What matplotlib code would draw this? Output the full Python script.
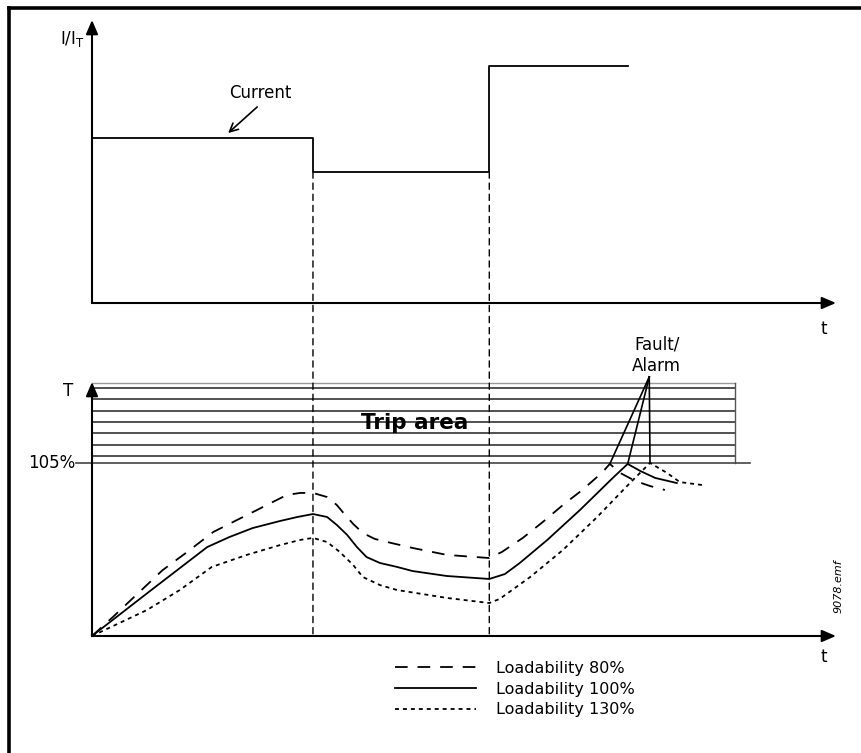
import numpy as np
import matplotlib
matplotlib.use("Agg")
import matplotlib.pyplot as plt
from matplotlib.patches import ConnectionPatch
from matplotlib.lines import Line2D

# time axis in arbitrary units (0..100), events where the load current changes
step_t = [0.1, 29.7, 53.4, 72.0]
step_I = [1.0, 0.794, 1.436, 1.436]

# motor temperature (% of nominal) for the three loadability settings
t80 = [0, 2.8, 9.5, 12.8, 16.3, 19.5, 22.2, 24.3, 26.2, 28.0, 29.7, 31.6, 32.9, 33.7, 35.1,
       36.4, 38.0, 39.7, 43.1, 47.7, 53.4, 55.1, 57.9, 60.6, 63.3, 65.9, 68.5, 69.6,
       71.0, 73.0, 75.0, 77.0]
T80 = [0, 11.5, 40.0, 51.0, 63.1, 70.4, 76.5, 81.3, 85.6, 86.8, 86.8, 84.3, 79.5, 75.2, 68.0,
       62.5, 58.9, 57.0, 53.4, 49.2, 47.3, 51.0, 59.5, 69.2, 79.5, 88.6, 98.9, 104.4,
       98.9, 94.1, 91.0, 88.6]

t100 = [0, 7.8, 15.5, 18.5, 21.6, 25.3, 27.6, 29.7, 31.6, 32.9, 34.3, 35.6, 36.9, 38.7,
        41.0, 43.1, 47.7, 53.4, 55.5, 57.5, 61.2, 65.6, 70.0, 72.0, 73.7, 75.7, 78.6]
T100 = [0, 27.3, 54.0, 60.1, 65.5, 69.8, 72.2, 74.0, 72.2, 67.4, 61.3, 54.0, 47.9, 44.3,
        41.9, 39.4, 36.4, 34.6, 37.6, 44.3, 58.3, 76.5, 95.9, 104.4, 100.1, 95.9, 92.8]

t130 = [0, 7.4, 11.8, 16.1, 20.8, 25.3, 28.0, 29.7, 31.6, 33.3, 35.1, 36.4, 38.7, 41.0,
        47.7, 53.4, 54.8, 58.9, 63.3, 67.9, 72.3, 75.0, 77.3, 79.0, 82.0]
T130 = [0, 15.8, 27.9, 41.9, 49.2, 55.2, 58.3, 59.5, 57.0, 51.0, 43.1, 35.8, 30.9, 27.9,
        23.1, 20.0, 22.5, 35.8, 52.2, 72.2, 92.8, 105.0, 98.9, 93.4, 91.6]

trip_level = 105
trip_lines = [109.2, 115.9, 123.2, 129.9, 136.5, 143.8, 150.5]
trip_top = 153.5
trip_end = 86.4

# where each curve hits the trip level, and the label point
fault_t = [69.6, 72.0, 75.0]
fault_T = [104.4, 104.4, 105.6]
fault_label = (74.9, 157.2)

labels = ["Loadability 80%", "Loadability 100%", "Loadability 130%"]

W, H = 861, 753
fig = plt.figure(figsize=(W / 100, H / 100), dpi=100)

x0, x1 = 92, 836
ax_top = fig.add_axes([x0 / W, (H - 303) / H, (x1 - x0) / W, 283 / H])
ax_bot = fig.add_axes([x0 / W, (H - 636) / H, (x1 - x0) / W, 254 / H])
ax_top.set_xlim(0, 100)
ax_top.set_ylim(0, 1.715)
ax_bot.set_xlim(0, 100)
ax_bot.set_ylim(0, 154.1)
for ax in (ax_top, ax_bot):
    ax.axis("off")
    ap = dict(arrowstyle="-|>,head_length=0.7,head_width=0.3", color="black", lw=1.5,
              shrinkA=0, shrinkB=0, mutation_scale=12)
    ax.annotate("", xy=(1, 0), xytext=(0, 0), xycoords="axes fraction", arrowprops=ap)
    ax.annotate("", xy=(0, 1), xytext=(0, 0), xycoords="axes fraction", arrowprops=ap)

# frame of the figure (top and left edges only)
fig.add_artist(Line2D([9 / W, 1.0], [(H - 8) / H] * 2, transform=fig.transFigure,
                      color="black", lw=2.6))
fig.add_artist(Line2D([9 / W] * 2, [0, (H - 8) / H], transform=fig.transFigure,
                      color="black", lw=2.6))

# current steps
ax_top.plot(step_t, step_I, drawstyle="steps-post", color="black", lw=1.3)
ax_top.text(22.6, 1.273, "Current", ha="center", va="center", fontsize=12)
ax_top.annotate("", xy=(18.3, 1.03), xytext=(22.2, 1.188),
                arrowprops=dict(arrowstyle="->,head_length=0.6,head_width=0.3",
                                color="black", lw=1.2, shrinkA=0, shrinkB=0))
ax_top.text(-1.0, 1.60, r"$\mathregular{I/I_T}$", ha="right", va="center", fontsize=12)
ax_top.text(98.3, -0.158, "t", ha="center", va="center", fontsize=12)

# dashed links between the two panels at the load changes
for tt, ii in zip(step_t[1:3], [step_I[1], step_I[1]]):
    con = ConnectionPatch(xyA=(tt, ii), coordsA=ax_top.transData, xyB=(tt, 0),
                          coordsB=ax_bot.transData, color="black", lw=1.0,
                          linestyle=(0, (4.5, 3.5)))
    fig.add_artist(con)

# trip area hatching
for yy in trip_lines:
    ax_bot.plot([0, trip_end], [yy, yy], color="#222222", lw=1.1)
ax_bot.plot([0, trip_end], [trip_top, trip_top], color="#999999", lw=1.0)
ax_bot.plot([trip_end, trip_end], [trip_level, trip_top], color="#555555", lw=1.0)
ax_bot.plot([-2.1, 88.4], [trip_level, trip_level], color="#444444", lw=1.2, clip_on=False)
ax_bot.text(43.4, 129.2, "Trip area", ha="center", va="center", fontsize=15.5,
            fontweight="bold", zorder=5)

# temperature curves
l80, = ax_bot.plot(t80, T80, color="black", lw=1.3, linestyle=(0, (7, 5.5)), clip_on=False)
l100, = ax_bot.plot(t100, T100, color="black", lw=1.3, clip_on=False)
l130, = ax_bot.plot(t130, T130, color="black", lw=1.3, linestyle=(0, (2.2, 2.2)), clip_on=False)

for ft, fT in zip(fault_t, fault_T):
    ax_bot.plot([fault_label[0], ft], [fault_label[1], fT], color="black", lw=1.2, clip_on=False)
ax_bot.text(75.9, 170.5, "Fault/\nAlarm", ha="center", va="center", fontsize=12,
            linespacing=1.25)

ax_bot.text(-2.3, trip_level, "105%", ha="right", va="center", fontsize=12)
ax_bot.text(-3.2, 148.7, "T", ha="center", va="center", fontsize=12)
ax_bot.text(98.3, -12.7, "t", ha="center", va="center", fontsize=12)
ax_bot.text(100.3, 30.3, "9078.emf", ha="center", va="center", fontsize=8, rotation=90,
            style="italic")

fig.legend([l80, l100, l130], labels, loc="upper left",
           bbox_to_anchor=(395 / W, (H - 661) / H), frameon=False, fontsize=11.5,
           handlelength=5.1, handletextpad=1.2, labelspacing=0.35, borderpad=0,
           borderaxespad=0)

fig.savefig("out.png", dpi=100)
